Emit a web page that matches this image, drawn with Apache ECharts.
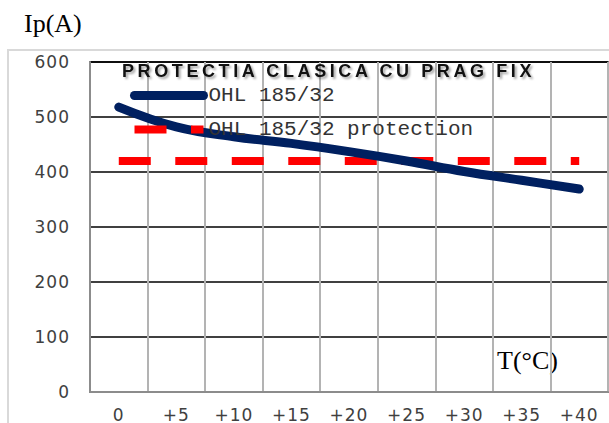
<!DOCTYPE html>
<html>
<head>
<meta charset="utf-8">
<script src="https://cdn.jsdelivr.net/npm/echarts@6/dist/echarts.min.js"></script>
<style>
  html, body { margin: 0; padding: 0; background: #fff; }
  #chart { width: 609px; height: 423px; }
  /* title: spaced letters with a soft shadow */
  #chart text[style*="Liberation Sans"] {
    letter-spacing: 3.6px;
    filter: drop-shadow(2px 2px 1px rgba(0,0,0,0.35));
  }
  #chart text[style*="DejaVu Sans"] { letter-spacing: 1px; }
</style>
</head>
<body>
<div id="chart"></div>
<script>
// temperatures (category axis)
var categories = ['0', '+5', '+10', '+15', '+20', '+25', '+30', '+35', '+40'];
// current for the line, in A
var ohlValues = [518, 482, 464, 452, 437, 420, 401, 385, 369];
// fixed protection threshold
var protectionValues = [420, 420, 420, 420, 420, 420, 420, 420, 420];
var yMin = 0, yMax = 600, yStep = 100;

var titleText = 'PROTECTIA CLASICA CU PRAG FIX';
var seriesNames = ['OHL 185/32', 'OHL 185/32 protection'];

var myChart = echarts.init(document.getElementById('chart'), null, { renderer: 'svg' });

myChart.setOption({
    animation: false,
    backgroundColor: '#fff',
    title: {
        text: titleText,
        left: 122,
        top: 62,
        padding: 0,
        textStyle: {
            fontFamily: 'Liberation Sans',
            fontWeight: 'bold',
            fontSize: 18,
            color: '#111'
        }
    },
    legend: {
        orient: 'vertical',
        left: 130,
        top: 85,
        padding: 0,
        itemGap: 13,
        itemWidth: 69,
        itemHeight: 9,
        data: seriesNames,
        // keep the real line look in the legend, hide the marker dot
        lineStyle: { width: 'inherit', type: 'inherit', cap: 'inherit' },
        itemStyle: { opacity: 0 },
        textStyle: {
            fontFamily: 'Liberation Mono',
            fontSize: 21,
            color: '#333'
        }
    },
    grid: {
        left: 90,
        top: 62,
        right: 1,
        bottom: 31,
        show: true,
        borderColor: '#000',
        borderWidth: 1.5
    },
    xAxis: {
        type: 'category',
        data: categories,
        boundaryGap: true,
        axisLine: { show: true, lineStyle: { color: '#8c8c8c', width: 2 } },
        axisTick: { show: false },
        splitLine: { show: true, interval: 0, lineStyle: { color: '#b3b3b3', width: 2 } },
        axisLabel: {
            interval: 0,
            margin: 14,
            fontFamily: 'DejaVu Sans',
            fontSize: 17,
            color: '#404040'
        }
    },
    yAxis: {
        type: 'value',
        min: yMin,
        max: yMax,
        interval: yStep,
        axisLine: { show: true, lineStyle: { color: '#8c8c8c', width: 2 } },
        axisTick: { show: false },
        splitLine: { show: true, lineStyle: { color: '#000', width: 1.5 } },
        axisLabel: {
            margin: 20,
            fontFamily: 'DejaVu Sans',
            fontSize: 17,
            color: '#404040'
        }
    },
    graphic: [
        {
            type: 'rect',
            silent: true,
            z: -1,
            shape: { x: 8, y: 50, width: 640, height: 420 },
            style: { fill: 'none', stroke: '#d9d9d9', lineWidth: 2 }
        },
        {
            type: 'text',
            left: 24,
            top: 10,
            style: { text: 'Ip(A)', fontFamily: 'Liberation Serif', fontSize: 26, fill: '#000' }
        },
        {
            type: 'text',
            left: 497,
            top: 347,
            style: { text: 'T(°C)', fontFamily: 'Liberation Serif', fontSize: 26, fill: '#000' }
        }
    ],
    series: [
        {
            name: seriesNames[1],
            type: 'line',
            data: protectionValues,
            symbol: 'none',
            lineStyle: { color: '#ff0000', width: 8, type: [32, 24.5], cap: 'butt' },
            itemStyle: { color: '#ff0000' }
        },
        {
            name: seriesNames[0],
            type: 'line',
            data: ohlValues,
            symbol: 'none',
            smooth: 0.4,
            lineStyle: { color: '#002060', width: 9, cap: 'round' },
            itemStyle: { color: '#002060' }
        }
    ]
});
</script>
</body>
</html>
